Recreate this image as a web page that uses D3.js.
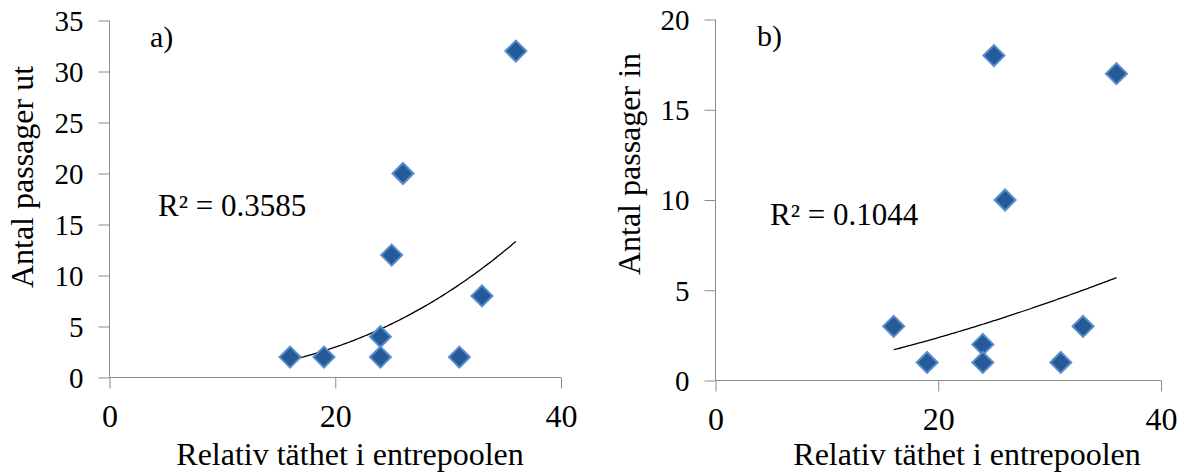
<!DOCTYPE html>
<html>
<head>
<meta charset="utf-8">
<script src="https://cdn.jsdelivr.net/npm/d3@7"></script>
<style>
  html, body { margin: 0; padding: 0; background: #fff; }
  svg { display: block; }
  text { font-family: "Liberation Serif", "Times New Roman", serif; fill: #000; }
</style>
</head>
<body>
<svg id="chart" width="1186" height="472"></svg>
<script>
// Relative density in the entrance pool (shared x for both panels)
const density = [16, 19, 24, 24, 25, 26, 31, 33, 36];
// Passages out (panel a) and in (panel b)
const passagesOut = [2, 2, 4, 2, 12, 20, 2, 8, 32];
const passagesIn  = [3, 1, 2, 1, 18, 10, 1, 3, 17];

const xTicks = [0, 20, 40];
const yTicksOut = [0, 5, 10, 15, 20, 25, 30, 35];
const yTicksIn  = [0, 5, 10, 15, 20];

const xTitle = "Relativ täthet i entrepoolen";
const panelLabels = ["a)", "b)"];
const yTitles = ["Antal passager ut", "Antal passager in"];

// Power trendline y = a * x^b fitted in log-log space, with R² of that fit
function powerFit(xs, ys) {
  const lx = xs.map(Math.log), ly = ys.map(Math.log);
  const mx = d3.mean(lx), my = d3.mean(ly);
  let sxy = 0, sxx = 0, syy = 0;
  for (let i = 0; i < lx.length; i++) {
    sxy += (lx[i] - mx) * (ly[i] - my);
    sxx += (lx[i] - mx) ** 2;
    syy += (ly[i] - my) ** 2;
  }
  const b = sxy / sxx;
  const a = Math.exp(my - b * mx);
  return { a, b, r2: (sxy * sxy) / (sxx * syy) };
}

const svg = d3.select("#chart");

const panels = [
  { ys: passagesOut, yTicks: yTicksOut, yMax: 35, label: panelLabels[0], yTitle: yTitles[0],
    x0: 109.5, x1: 561, yBot: 377.5, yTop: 20.5,
    yTitleX: 33, yTitleY: 177, labelX: 150, labelY: 47, r2X: 158, r2Y: 216, xTitleX: 350 },
  { ys: passagesIn, yTicks: yTicksIn, yMax: 20, label: panelLabels[1], yTitle: yTitles[1],
    x0: 715.5, x1: 1161, yBot: 380.5, yTop: 19.5,
    yTitleX: 640, yTitleY: 164, labelX: 757, labelY: 46, r2X: 770, r2Y: 225, xTitleX: 967 }
];

const axisColor = "#8c8c8c";

panels.forEach(p => {
  const x = d3.scaleLinear().domain([0, 40]).range([p.x0, p.x1]);
  const y = d3.scaleLinear().domain([0, p.yMax]).range([p.yBot, p.yTop]);
  const g = svg.append("g");

  // x axis: line at y=0 with downward ticks
  const xAxis = d3.axisBottom(x).tickValues(xTicks).tickSize(11).tickPadding(12).tickSizeOuter(0);
  const gx = g.append("g").attr("transform", `translate(0,${p.yBot})`).call(xAxis);
  gx.select(".domain").attr("stroke", axisColor).attr("d", `M${p.x0},0H${p.x1}`);
  gx.selectAll(".tick line").attr("stroke", axisColor);
  gx.selectAll(".tick text")
    .style("font-size", "32px")
    .attr("dy", null)
    .attr("y", 49);

  // y axis: line at x=0 with leftward ticks
  const yAxis = d3.axisLeft(y).tickValues(p.yTicks).tickSize(11).tickPadding(15).tickSizeOuter(0);
  const gy = g.append("g").attr("transform", `translate(${p.x0},0)`).call(yAxis);
  gy.select(".domain").attr("stroke", axisColor).attr("d", `M0,${p.yTop}V${p.yBot}`);
  gy.selectAll(".tick line").attr("stroke", axisColor);
  gy.selectAll(".tick text")
    .style("font-size", "29px")
    .attr("dy", "0.34em");

  // trendline over the observed density range
  const fit = powerFit(density, p.ys);
  const xMin = d3.min(density), xMax = d3.max(density);
  const pts = d3.range(0, 101).map(i => {
    const xv = xMin + (xMax - xMin) * i / 100;
    return [xv, fit.a * Math.pow(xv, fit.b)];
  });
  g.append("path")
    .datum(pts)
    .attr("fill", "none")
    .attr("stroke", "#000")
    .attr("stroke-width", 1.3)
    .attr("d", d3.line().x(d => x(d[0])).y(d => y(d[1])));

  // diamond markers
  g.selectAll("path.pt")
    .data(density.map((d, i) => [d, p.ys[i]]))
    .join("path")
    .attr("class", "pt")
    .attr("d", "M0,-10.5L10.5,0L0,10.5L-10.5,0Z")
    .attr("transform", d => `translate(${x(d[0])},${y(d[1])})`)
    .attr("fill", "#245a98")
    .attr("stroke", "#5b8dcb")
    .attr("stroke-width", 2)
    .attr("stroke-linejoin", "miter");

  // panel label
  g.append("text").attr("x", p.labelX).attr("y", p.labelY)
    .style("font-size", "30px").text(p.label);

  // R² annotation
  g.append("text").attr("x", p.r2X).attr("y", p.r2Y)
    .style("font-size", "31px")
    .text(`R² = ${fit.r2.toFixed(4)}`);

  // axis titles
  g.append("text")
    .attr("transform", `translate(${p.yTitleX},${p.yTitleY}) rotate(-90)`)
    .attr("text-anchor", "middle")
    .style("font-size", "32px")
    .text(p.yTitle);

  g.append("text")
    .attr("x", p.xTitleX).attr("y", 465)
    .attr("text-anchor", "middle")
    .style("font-size", "32px")
    .text(xTitle);
});
</script>
</body>
</html>
